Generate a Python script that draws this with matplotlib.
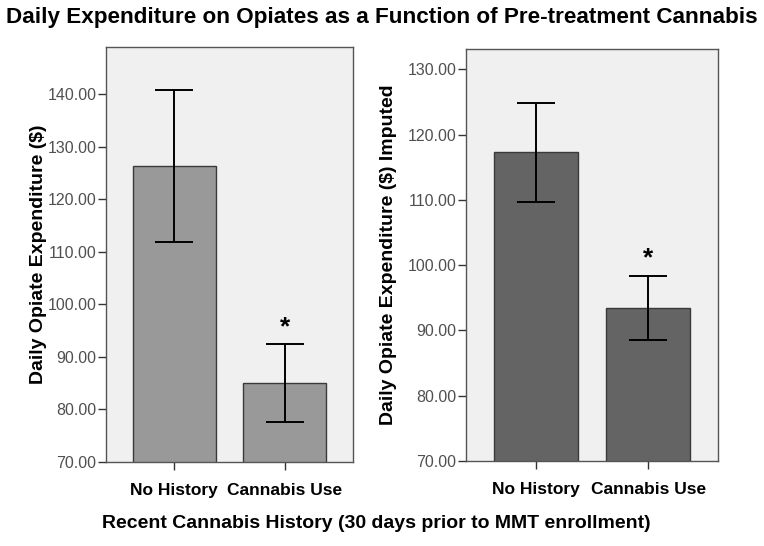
import matplotlib
matplotlib.use("Agg")
import matplotlib.pyplot as plt
import numpy as np

categories = ["No History", "Cannabis Use"]
left_means = [126.4, 85.1]
left_upper = [140.9, 92.5]
left_lower = [111.8, 77.7]
right_means = [117.3, 93.5]
right_upper = [124.9, 98.4]
right_lower = [109.7, 88.6]
left_ticks = [70, 80, 90, 100, 110, 120, 130, 140]
right_ticks = [70, 80, 90, 100, 110, 120, 130]

plt.rcParams['font.family'] = ['Liberation Sans', 'DejaVu Sans']

fig = plt.figure(figsize=(7.64, 5.46), dpi=100)
W, H = 764, 546

def panel(rect_px, means, upper, lower, ticks, ylim, color, ylabel, label_right_px):
    x0, y0, x1, y1 = rect_px
    ax = fig.add_axes([x0 / W, 1 - y1 / H, (x1 - x0) / W, (y1 - y0) / H])
    ax.set_facecolor('#f0f0f0')
    x = np.arange(len(categories))
    ax.bar(x, means, width=0.75, color=color, edgecolor='#3a3a3a', linewidth=1.0, zorder=2)
    means_a = np.array(means)
    yerr = [means_a - np.array(lower), np.array(upper) - means_a]
    ax.errorbar(x, means, yerr=yerr, fmt='none', ecolor='black', elinewidth=1.4,
                capsize=13.5, capthick=1.4, zorder=3)
    ax.text(x[1], upper[1] + (ylim[1] - ylim[0]) * 0.012, '*', ha='center', va='bottom',
            fontsize=19, fontweight='bold')
    ax.set_xlim(-0.62, 1.62)
    ax.set_ylim(*ylim)
    ax.set_yticks(ticks)
    ax.set_yticklabels([f"{t:.2f}" for t in ticks], color='#505050', fontsize=11.5)
    ax.set_xticks(x)
    ax.set_xticklabels(categories, fontsize=12.5, fontweight='bold')
    ax.tick_params(axis='both', length=6, width=1, color='#333333')
    ax.tick_params(axis='y', pad=1)
    ax.tick_params(axis='x', pad=9)
    for s in ax.spines.values():
        s.set_color('#555555')
        s.set_linewidth(1.0)
    ax.set_ylabel(ylabel, fontsize=14, fontweight='bold')
    ax.yaxis.set_label_coords((label_right_px - x0) / (x1 - x0), 0.5)
    return ax

panel((106, 47, 353, 462), left_means, left_upper, left_lower, left_ticks, (70, 149),
      '#999999', 'Daily Opiate Expenditure ($)', 47)
panel((466, 49, 718, 461), right_means, right_upper, right_lower, right_ticks, (70, 133.1),
      '#646464', 'Daily Opiate Expenditure ($) Imputed', 397)

fig.text(382 / W, 1 - 18 / H, 'Daily Expenditure on Opiates as a Function of Pre-treatment Cannabis',
         ha='center', va='center', fontsize=16.2, fontweight='bold')
fig.text(376 / W, 1 - 524 / H, 'Recent Cannabis History (30 days prior to MMT enrollment)',
         ha='center', va='center', fontsize=14, fontweight='bold')

fig.savefig('out.png', dpi=100)
